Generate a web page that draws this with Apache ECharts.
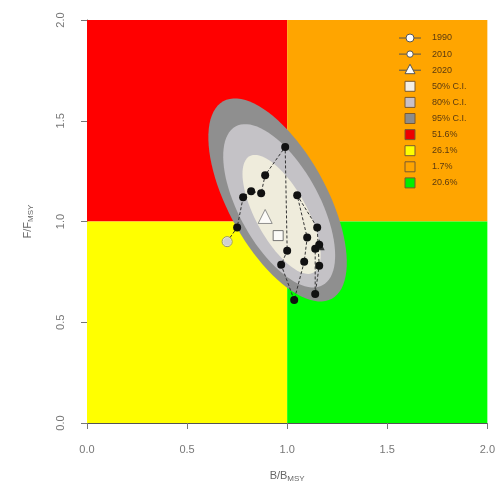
<!DOCTYPE html>
<html><head><meta charset="utf-8">
<script src="https://cdn.jsdelivr.net/npm/echarts@6/dist/echarts.min.js"></script>
<style>html,body{margin:0;padding:0;background:#fff}#c{width:498px;height:490px}</style>
</head><body><div id="c"></div>
<script>
// Trajectory (B/Bmsy, F/Fmsy)
const trajB = [0.70,0.75,0.78,0.82,0.87,0.89,0.99,1.00,0.97,1.035,1.085,1.10,1.05,1.15,1.16,1.14,1.14,1.16];
const trajF = [0.90,0.97,1.12,1.15,1.14,1.23,1.37,0.855,0.785,0.61,0.80,0.92,1.13,0.97,0.78,0.64,0.865,0.885];
const startPt = [0.70,0.90];
const trianglePt = [0.89,1.025];
const squarePt = [0.955,0.93];
const endPt = [1.16,0.885];
// confidence ellipses: [centerB, centerF, semiMajor, semiMinor, angleDeg]
const ci95 = [0.952,1.107,0.56,0.245,-61];
const ci80 = [0.96,1.078,0.45,0.2,-61];
const ci50 = [0.972,1.035,0.33,0.128,-61];
const ciColors = ['#8f8f8f','#c4c2c6','#efecdc'];
const quadLabels = ['51.6%','26.1%','1.7%','20.6%'];
const legendYears = ['1990','2010','2020'];
const legendCI = ['50% C.I.','80% C.I.','95% C.I.'];

function ellipsePoly(p){
  const [cx,cy,a,b,ang]=p, t=ang*Math.PI/180, pts=[];
  for(let i=0;i<90;i++){const u=i/90*2*Math.PI;
    pts.push([cx+a*Math.cos(u)*Math.cos(t)-b*Math.sin(u)*Math.sin(t), cy+a*Math.cos(u)*Math.sin(t)+b*Math.sin(u)*Math.cos(t)]);}
  return pts;
}
const ells=[ci95,ci80,ci50];
const chart = echarts.init(document.getElementById('c'));
const lx=410, tx=432, ly0=38, dy=16.1;
const graphics=[];
const textSt={fontSize:9,fill:'#5a3a10',fontFamily:'Liberation Sans'};
[0,1,2].forEach(i=>{
  const y=ly0+i*dy;
  graphics.push({type:'line',shape:{x1:lx-11,y1:y,x2:lx+11,y2:y},style:{stroke:'#555',lineWidth:1},z:100});
  if(i<2) graphics.push({type:'circle',shape:{cx:lx,cy:y,r:i==0?4:3.2},style:{fill:'#fff',stroke:'#555'},z:101});
  else graphics.push({type:'polygon',shape:{points:[[lx,y-6],[lx-5,y+3.5],[lx+5,y+3.5]]},style:{fill:'#fff',stroke:'#555'},z:101});
  graphics.push({type:'text',x:tx,y:y,style:Object.assign({text:legendYears[i],verticalAlign:'middle'},textSt),z:101});
});
const boxCols=['#f4efe6','#c8c0c8','#8c8c8c','#ee0000','#ffff00','#ffa500','#00ee00'];
const boxTxt=legendCI.concat(quadLabels);
boxTxt.forEach((t,j)=>{
  const y=ly0+(3+j)*dy;
  graphics.push({type:'rect',shape:{x:lx-5,y:y-5,width:10,height:10},style:{fill:boxCols[j],stroke:'#7a5a30',lineWidth:1},z:101});
  graphics.push({type:'text',x:tx,y:y,style:Object.assign({text:t,verticalAlign:'middle'},textSt),z:101});
});

chart.setOption({
  animation:false,
  grid:{left:87,right:9,top:20,bottom:67},
  xAxis:{type:'value',min:0,max:2,interval:0.5,
    name:'B/B{s|MSY}',nameLocation:'middle',nameGap:46,
    nameTextStyle:{color:'#666',fontSize:11,fontFamily:'Liberation Sans',rich:{s:{fontSize:8,color:'#666',padding:[6,0,0,0]}}},
    splitLine:{show:false},axisLine:{show:true,onZero:false,lineStyle:{color:'#555'}},
    axisTick:{show:true,length:6,lineStyle:{color:'#777'}},
    axisLabel:{color:'#777',fontSize:11,margin:21,fontFamily:'Liberation Sans',formatter:v=>v.toFixed(1)}},
  yAxis:{type:'value',min:0,max:2,interval:0.5,
    name:'F/F{s|MSY}',nameLocation:'middle',nameGap:52,nameRotate:90,
    nameTextStyle:{color:'#666',fontSize:11,fontFamily:'Liberation Sans',rich:{s:{fontSize:8,color:'#666',padding:[6,0,0,0]}}},
    splitLine:{show:false},axisLine:{show:true,onZero:false,lineStyle:{color:'#555'}},
    axisTick:{show:true,length:6,lineStyle:{color:'#777'}},
    axisLabel:{color:'#777',fontSize:11,margin:21,rotate:90,fontFamily:'Liberation Sans',formatter:v=>v.toFixed(1)}},
  graphic:graphics,
  series:[
    {type:'line',data:[],silent:true,z:1,
      markArea:{silent:true,data:[
        [{coord:[0,1],itemStyle:{color:'#ff0000'}},{coord:[1,2]}],
        [{coord:[1,1],itemStyle:{color:'#ffa500'}},{coord:[2,2]}],
        [{coord:[0,0],itemStyle:{color:'#ffff00'}},{coord:[1,1]}],
        [{coord:[1,0],itemStyle:{color:'#00ff00'}},{coord:[2,1]}]
      ],itemStyle:{opacity:1}}},
    {type:'custom',z:2,silent:true,data:[0,1,2],
      renderItem:(params,api)=>{const i=params.dataIndex;
        return {type:'polygon',shape:{points:ellipsePoly(ells[i]).map(p=>api.coord(p))},style:{fill:ciColors[i]}};}},
    {type:'line',z:3,data:trajB.map((b,i)=>[b,trajF[i]]),symbol:'circle',symbolSize:8,
      lineStyle:{color:'#333',width:1,type:[3,2]},itemStyle:{color:'#111'}},
    {type:'scatter',z:4,data:[startPt],symbol:'circle',symbolSize:10,itemStyle:{color:'#fff',borderColor:'#777',borderWidth:1}},
    {type:'scatter',z:4,data:[trianglePt],symbol:'triangle',symbolSize:14,itemStyle:{color:'#fff',borderColor:'#777',borderWidth:1}},
    {type:'scatter',z:4,data:[squarePt],symbol:'rect',symbolSize:10,itemStyle:{color:'#fff',borderColor:'#555',borderWidth:1}},
    {type:'scatter',z:4,data:[endPt],symbol:'triangle',symbolSize:11,itemStyle:{color:'#111'}}
  ]
});
</script></body></html>
